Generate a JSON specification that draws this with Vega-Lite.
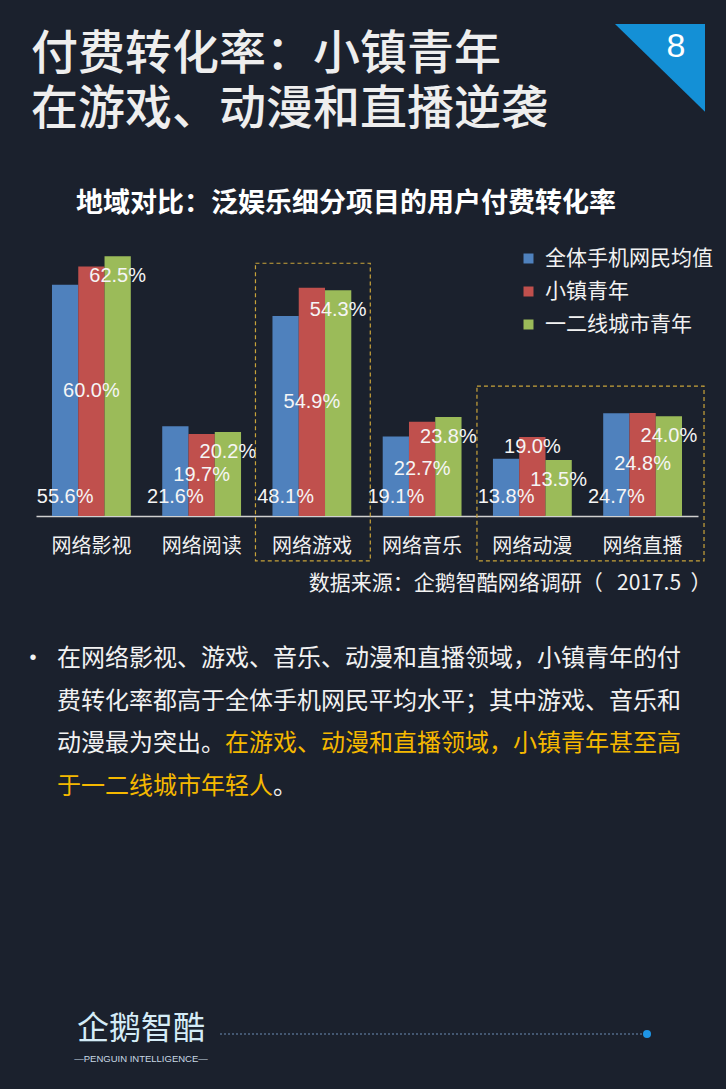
{
  "$schema": "https://vega.github.io/schema/vega-lite/v6.json",
  "width": 662,
  "height": 291,
  "autosize": "none",
  "padding": {"left": 36, "top": 225, "right": 28, "bottom": 573},
  "background": "#1b212d",
  "config": {"view": {"stroke": null}},
  "datasets": {
    "rates": [
      {"category": "网络影视", "group": "全体手机网民均值", "rate": 0.556},
      {"category": "网络影视", "group": "小镇青年", "rate": 0.600},
      {"category": "网络影视", "group": "一二线城市青年", "rate": 0.625},
      {"category": "网络阅读", "group": "全体手机网民均值", "rate": 0.216},
      {"category": "网络阅读", "group": "小镇青年", "rate": 0.197},
      {"category": "网络阅读", "group": "一二线城市青年", "rate": 0.202},
      {"category": "网络游戏", "group": "全体手机网民均值", "rate": 0.481},
      {"category": "网络游戏", "group": "小镇青年", "rate": 0.549},
      {"category": "网络游戏", "group": "一二线城市青年", "rate": 0.543},
      {"category": "网络音乐", "group": "全体手机网民均值", "rate": 0.191},
      {"category": "网络音乐", "group": "小镇青年", "rate": 0.227},
      {"category": "网络音乐", "group": "一二线城市青年", "rate": 0.238},
      {"category": "网络动漫", "group": "全体手机网民均值", "rate": 0.138},
      {"category": "网络动漫", "group": "小镇青年", "rate": 0.190},
      {"category": "网络动漫", "group": "一二线城市青年", "rate": 0.135},
      {"category": "网络直播", "group": "全体手机网民均值", "rate": 0.247},
      {"category": "网络直播", "group": "小镇青年", "rate": 0.248},
      {"category": "网络直播", "group": "一二线城市青年", "rate": 0.240}
    ]
  },
  "resolve": {"scale": {"x": "independent", "y": "independent"}},
  "layer": [
    {
      "resolve": {"scale": {"y": "independent"}},
      "layer": [
        {
          "data": {"name": "rates"},
          "mark": {"type": "bar"},
          "encoding": {
            "x": {
              "field": "category", "type": "nominal",
              "scale": {"domain": ["网络影视", "网络阅读", "网络游戏", "网络音乐", "网络动漫", "网络直播"], "paddingInner": 0.285, "paddingOuter": 0.145},
              "axis": {
                "title": "数据来源：企鹅智酷网络调研（\u00a0\u00a0 2017.5\u00a0 ）",
                "titleFont": "Noto Sans CJK SC", "titleFontSize": 21, "titleFontWeight": "normal", "titleColor": "#f2f2f2",
                "titleAnchor": "end", "titleAlign": "right", "titleBaseline": "middle", "titleX": 675, "titleY": 67,
                "labelFont": "Noto Sans CJK SC", "labelFontSize": 20, "labelColor": "#f2f2f2", "labelAngle": 0, "labelPadding": 20,
                "ticks": false, "tickSize": 0, "domainColor": "#d0d0d0", "domainWidth": 1.5, "grid": false
              }
            },
            "xOffset": {
              "field": "group", "type": "nominal",
              "scale": {"domain": ["全体手机网民均值", "小镇青年", "一二线城市青年"], "paddingInner": 0, "paddingOuter": 0}
            },
            "y": {"field": "rate", "type": "quantitative", "scale": {"domain": [0, 0.7], "nice": false, "zero": true}, "axis": null},
            "color": {
              "field": "group", "type": "nominal",
              "scale": {"domain": ["全体手机网民均值", "小镇青年", "一二线城市青年"], "range": ["#4f81bd", "#c0504d", "#9bbb59"]},
              "legend": {
                "orient": "none", "legendX": 482, "legendY": 23, "direction": "vertical", "title": null, "padding": 0,
                "symbolType": "square", "symbolSize": 100, "symbolStrokeWidth": 0,
                "labelFont": "Noto Sans CJK SC", "labelFontSize": 21, "labelColor": "#f2f2f2", "labelLimit": 300,
                "labelOffset": 6, "rowPadding": 11
              }
            }
          }
        },
        {
          "data": {"name": "rates"},
          "transform": [{"filter": "datum.group === '全体手机网民均值'"}],
          "mark": {"type": "text", "font": "Liberation Sans", "fontSize": 20, "color": "#f5f5f5", "baseline": "middle", "align": "center", "dy": -19},
          "encoding": {
            "x": {"field": "category", "type": "nominal"},
            "xOffset": {"field": "group", "type": "nominal"},
            "y": {"datum": 0, "type": "quantitative", "scale": {"domain": [0, 0.7], "nice": false}, "axis": null},
            "text": {"field": "rate", "type": "quantitative", "format": ".1%"}
          }
        },
        {
          "data": {"name": "rates"},
          "transform": [{"filter": "datum.group === '小镇青年' && datum.category !== '网络动漫'"}],
          "mark": {"type": "text", "font": "Liberation Sans", "fontSize": 20, "color": "#f5f5f5", "baseline": "middle", "align": "center"},
          "encoding": {
            "x": {"field": "category", "type": "nominal"},
            "xOffset": {"field": "group", "type": "nominal"},
            "y": {"field": "rate", "type": "quantitative", "scale": {"domain": [0, 1.4], "nice": false}, "axis": null},
            "text": {"field": "rate", "type": "quantitative", "format": ".1%"}
          }
        },
        {
          "data": {"name": "rates"},
          "transform": [{"filter": "datum.group === '小镇青年' && datum.category === '网络动漫'"}],
          "mark": {"type": "text", "font": "Liberation Sans", "fontSize": 20, "color": "#f5f5f5", "baseline": "middle", "align": "center", "dy": 10},
          "encoding": {
            "x": {"field": "category", "type": "nominal"},
            "xOffset": {"field": "group", "type": "nominal"},
            "y": {"field": "rate", "type": "quantitative", "scale": {"domain": [0, 0.7], "nice": false}, "axis": null},
            "text": {"field": "rate", "type": "quantitative", "format": ".1%"}
          }
        },
        {
          "data": {"name": "rates"},
          "transform": [{"filter": "datum.group === '一二线城市青年'"}],
          "mark": {"type": "text", "font": "Liberation Sans", "fontSize": 20, "color": "#f5f5f5", "baseline": "middle", "align": "center", "dy": 20},
          "encoding": {
            "x": {"field": "category", "type": "nominal"},
            "xOffset": {"field": "group", "type": "nominal"},
            "y": {"field": "rate", "type": "quantitative", "scale": {"domain": [0, 0.7], "nice": false}, "axis": null},
            "text": {"field": "rate", "type": "quantitative", "format": ".1%"}
          }
        },
        {
          "data": {"values": [{}]},
          "mark": {"type": "rect", "filled": false, "stroke": "#c9a43a", "strokeWidth": 1.2, "strokeDash": [4, 3], "xOffset": -17, "x2Offset": 19},
          "encoding": {
            "x": {"datum": "网络游戏", "type": "nominal", "bandPosition": 0},
            "x2": {"datum": "网络游戏", "bandPosition": 1},
            "y": {"datum": 0.608, "type": "quantitative", "scale": {"domain": [0, 0.7], "nice": false}, "axis": null},
            "y2": {"datum": -0.108}
          }
        },
        {
          "data": {"values": [{}]},
          "mark": {"type": "rect", "filled": false, "stroke": "#c9a43a", "strokeWidth": 1.2, "strokeDash": [4, 3], "xOffset": -16, "x2Offset": 22},
          "encoding": {
            "x": {"datum": "网络动漫", "type": "nominal", "bandPosition": 0},
            "x2": {"datum": "网络直播", "bandPosition": 1},
            "y": {"datum": 0.3125, "type": "quantitative", "scale": {"domain": [0, 0.7], "nice": false}, "axis": null},
            "y2": {"datum": -0.108}
          }
        }
      ]
    },
    {
      "data": {"values": [{}]},
      "layer": [
        {
          "mark": {"type": "text", "text": "付费转化率：小镇青年", "font": "Noto Sans CJK SC", "fontSize": 47, "fontWeight": 500, "color": "#eeeeee", "align": "left", "baseline": "top"},
          "encoding": {
            "x": {"datum": 31, "type": "quantitative", "scale": {"domain": [36, 698], "nice": false, "zero": false}, "axis": null},
            "y": {"datum": 32, "type": "quantitative", "scale": {"domain": [225, 516], "nice": false, "zero": false, "reverse": true}, "axis": null}
          }
        },
        {
          "mark": {"type": "text", "text": "在游戏、动漫和直播逆袭", "font": "Noto Sans CJK SC", "fontSize": 47, "fontWeight": 500, "color": "#eeeeee", "align": "left", "baseline": "top"},
          "encoding": {
            "x": {"datum": 31, "type": "quantitative", "scale": {"domain": [36, 698], "nice": false, "zero": false}, "axis": null},
            "y": {"datum": 87, "type": "quantitative", "scale": {"domain": [225, 516], "nice": false, "zero": false, "reverse": true}, "axis": null}
          }
        },
        {
          "mark": {"type": "point", "shape": "M -1 -1 L 1 -1 L 1 0.95 Z", "size": 8100, "filled": true, "color": "#1490d6", "opacity": 1, "strokeWidth": 0},
          "encoding": {
            "x": {"datum": 660, "type": "quantitative", "scale": {"domain": [36, 698], "nice": false, "zero": false}, "axis": null},
            "y": {"datum": 69, "type": "quantitative", "scale": {"domain": [225, 516], "nice": false, "zero": false, "reverse": true}, "axis": null}
          }
        },
        {
          "mark": {"type": "text", "text": "8", "font": "Liberation Sans", "fontSize": 34, "color": "#ffffff", "align": "center", "baseline": "middle"},
          "encoding": {
            "x": {"datum": 676, "type": "quantitative", "scale": {"domain": [36, 698], "nice": false, "zero": false}, "axis": null},
            "y": {"datum": 47, "type": "quantitative", "scale": {"domain": [225, 516], "nice": false, "zero": false, "reverse": true}, "axis": null}
          }
        },
        {
          "mark": {"type": "text", "text": "地域对比：泛娱乐细分项目的用户付费转化率", "font": "Noto Sans CJK SC", "fontSize": 27, "fontWeight": "bold", "color": "#ffffff", "align": "center", "baseline": "middle"},
          "encoding": {
            "x": {"datum": 346, "type": "quantitative", "scale": {"domain": [36, 698], "nice": false, "zero": false}, "axis": null},
            "y": {"datum": 204, "type": "quantitative", "scale": {"domain": [225, 516], "nice": false, "zero": false, "reverse": true}, "axis": null}
          }
        },
        {
          "mark": {"type": "text", "text": "•", "font": "Liberation Sans", "fontSize": 20, "color": "#f2f2f2", "align": "center", "baseline": "middle"},
          "encoding": {
            "x": {"datum": 33, "type": "quantitative", "scale": {"domain": [36, 698], "nice": false, "zero": false}, "axis": null},
            "y": {"datum": 658, "type": "quantitative", "scale": {"domain": [225, 516], "nice": false, "zero": false, "reverse": true}, "axis": null}
          }
        },
        {
          "mark": {"type": "text", "text": "在网络影视、游戏、音乐、动漫和直播领域，小镇青年的付\n费转化率都高于全体手机网民平均水平；其中游戏、音乐和\n动漫最为突出。", "lineBreak": "\n", "lineHeight": 42.6, "font": "Noto Sans CJK SC", "fontSize": 24, "color": "#f2f2f2", "align": "left", "baseline": "top"},
          "encoding": {
            "x": {"datum": 57, "type": "quantitative", "scale": {"domain": [36, 698], "nice": false, "zero": false}, "axis": null},
            "y": {"datum": 647, "type": "quantitative", "scale": {"domain": [225, 516], "nice": false, "zero": false, "reverse": true}, "axis": null}
          }
        },
        {
          "mark": {"type": "text", "text": "在游戏、动漫和直播领域，小镇青年甚至高", "font": "Noto Sans CJK SC", "fontSize": 24, "color": "#f5b800", "align": "left", "baseline": "top"},
          "encoding": {
            "x": {"datum": 225, "type": "quantitative", "scale": {"domain": [36, 698], "nice": false, "zero": false}, "axis": null},
            "y": {"datum": 732.2, "type": "quantitative", "scale": {"domain": [225, 516], "nice": false, "zero": false, "reverse": true}, "axis": null}
          }
        },
        {
          "mark": {"type": "text", "text": "于一二线城市年轻人", "font": "Noto Sans CJK SC", "fontSize": 24, "color": "#f5b800", "align": "left", "baseline": "top"},
          "encoding": {
            "x": {"datum": 57, "type": "quantitative", "scale": {"domain": [36, 698], "nice": false, "zero": false}, "axis": null},
            "y": {"datum": 774.8, "type": "quantitative", "scale": {"domain": [225, 516], "nice": false, "zero": false, "reverse": true}, "axis": null}
          }
        },
        {
          "mark": {"type": "text", "text": "。", "font": "Noto Sans CJK SC", "fontSize": 24, "color": "#f2f2f2", "align": "left", "baseline": "top"},
          "encoding": {
            "x": {"datum": 273, "type": "quantitative", "scale": {"domain": [36, 698], "nice": false, "zero": false}, "axis": null},
            "y": {"datum": 774.8, "type": "quantitative", "scale": {"domain": [225, 516], "nice": false, "zero": false, "reverse": true}, "axis": null}
          }
        },
        {
          "mark": {"type": "text", "text": "企鹅智酷", "font": "Noto Sans CJK SC", "fontSize": 32, "color": "#d5ecf7", "align": "center", "baseline": "middle"},
          "encoding": {
            "x": {"datum": 141, "type": "quantitative", "scale": {"domain": [36, 698], "nice": false, "zero": false}, "axis": null},
            "y": {"datum": 1029, "type": "quantitative", "scale": {"domain": [225, 516], "nice": false, "zero": false, "reverse": true}, "axis": null}
          }
        },
        {
          "mark": {"type": "text", "text": "—PENGUIN INTELLIGENCE—", "font": "Liberation Sans", "fontSize": 9.5, "color": "#c8d8e4", "align": "center", "baseline": "middle"},
          "encoding": {
            "x": {"datum": 141, "type": "quantitative", "scale": {"domain": [36, 698], "nice": false, "zero": false}, "axis": null},
            "y": {"datum": 1059, "type": "quantitative", "scale": {"domain": [225, 516], "nice": false, "zero": false, "reverse": true}, "axis": null}
          }
        },
        {
          "mark": {"type": "rule", "color": "#6d8db5", "strokeWidth": 1, "strokeDash": [2, 2]},
          "encoding": {
            "x": {"datum": 220, "type": "quantitative", "scale": {"domain": [36, 698], "nice": false, "zero": false}, "axis": null},
            "x2": {"datum": 643},
            "y": {"datum": 1034, "type": "quantitative", "scale": {"domain": [225, 516], "nice": false, "zero": false, "reverse": true}, "axis": null}
          }
        },
        {
          "mark": {"type": "point", "filled": true, "size": 64, "color": "#1e95e6", "opacity": 1},
          "encoding": {
            "x": {"datum": 647, "type": "quantitative", "scale": {"domain": [36, 698], "nice": false, "zero": false}, "axis": null},
            "y": {"datum": 1034, "type": "quantitative", "scale": {"domain": [225, 516], "nice": false, "zero": false, "reverse": true}, "axis": null}
          }
        }
      ]
    }
  ]
}
